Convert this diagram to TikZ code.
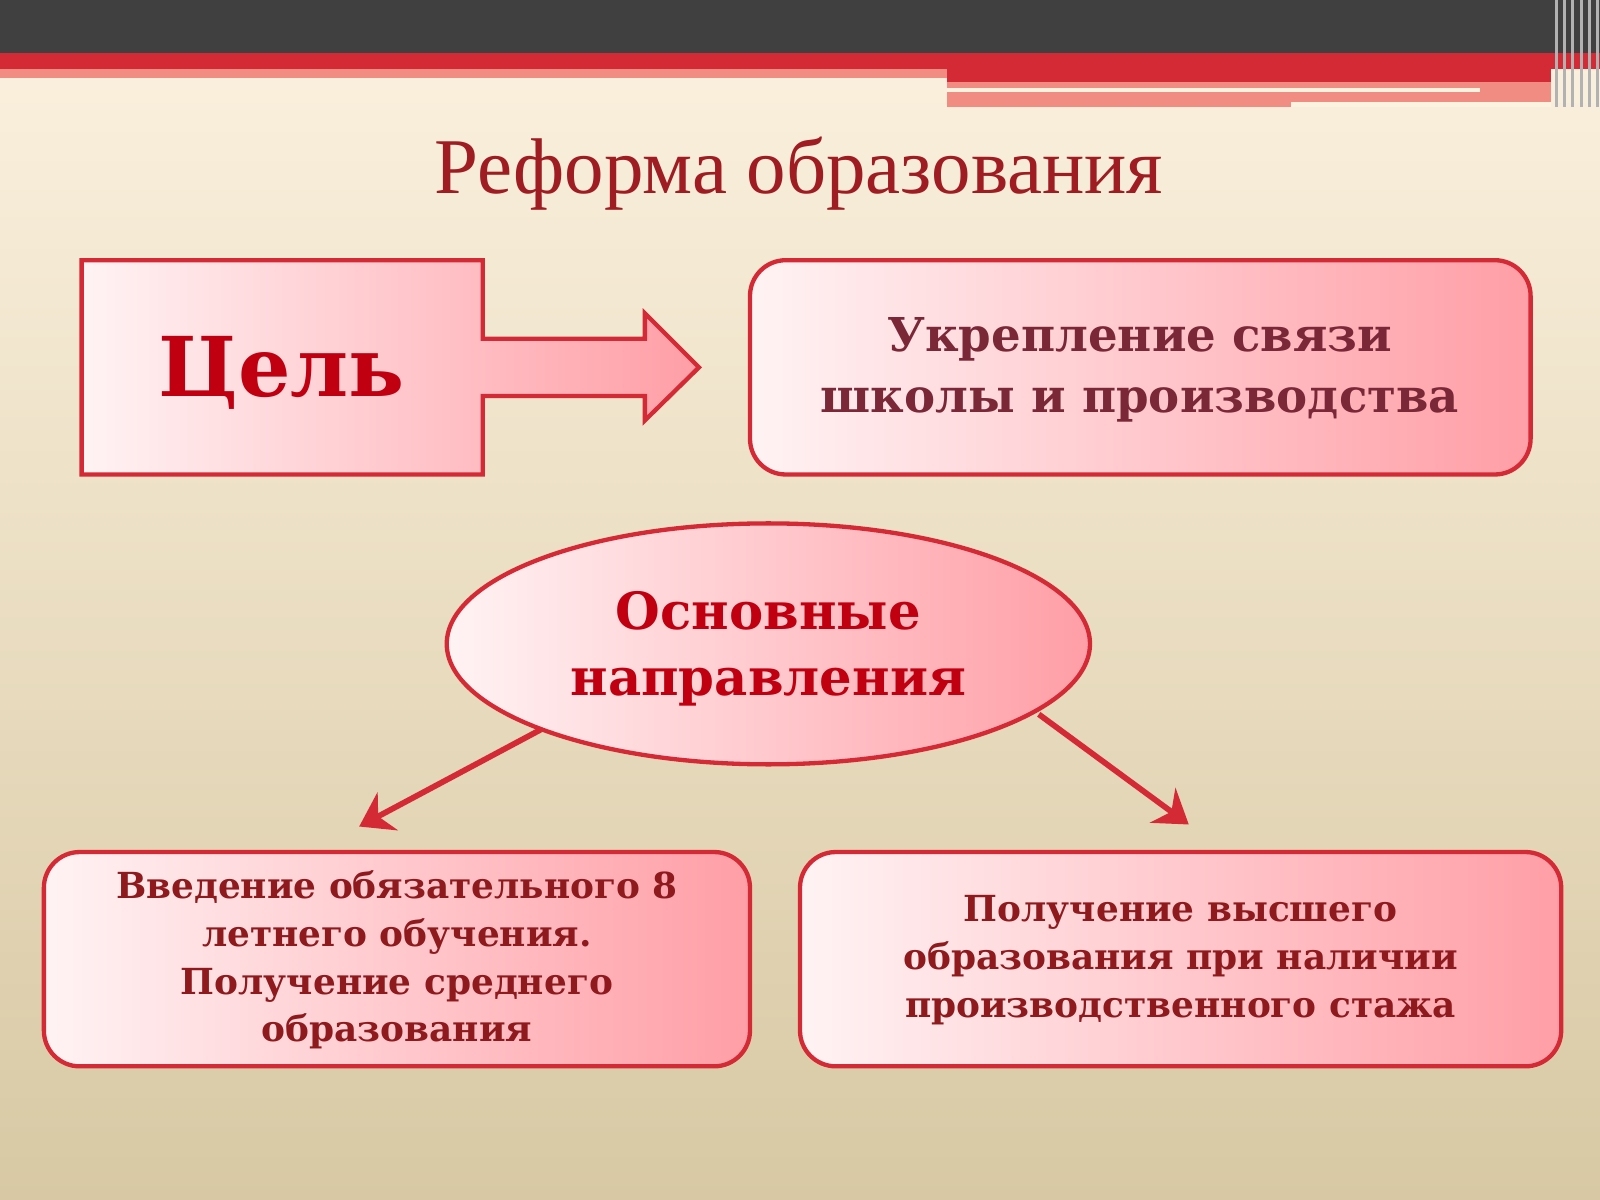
\documentclass[tikz,border=0pt]{standalone}
\usepackage{fontspec}
\setmainfont{DejaVu Serif}
\newfontfamily\titlefont{Liberation Serif}
\usetikzlibrary{shapes.geometric,arrows.meta}
\definecolor{bgtop}{HTML}{FCF2E0}
\definecolor{bgmid}{HTML}{F1E6CC}
\definecolor{bgbot}{HTML}{D8C9A4}
\definecolor{edge}{HTML}{D42A35}
\definecolor{pinkR}{HTML}{FF9EA6}
\definecolor{pinkL}{HTML}{FFF3F4}
\definecolor{titlec}{HTML}{9E1C22}
\definecolor{redtxt}{HTML}{C00010}
\definecolor{maroon}{HTML}{7A2838}
\definecolor{darkred}{HTML}{8E1A1E}
\definecolor{hdrgray}{HTML}{404040}
\definecolor{hdrpink}{HTML}{F08C82}
\tikzset{
 px/.style={x=0.01cm,y=-0.01cm},
 pbox/.style={draw=edge,line width=1.2pt,left color=pinkL,right color=pinkR},
 rbox/.style={pbox,rounded corners=0.35cm},
 bigtxt/.style={font=\bfseries\fontsize{13}{17}\selectfont,text=maroon,align=center},
 smtxt/.style={font=\bfseries\fontsize{10}{13.3}\selectfont,text=darkred,align=center},
 darr/.style={draw=edge,line width=1.6pt,-{Stealth[length=9pt,width=12pt,inset=3pt]}}
}
\begin{document}
\begin{tikzpicture}[px]
\useasboundingbox (0,0) rectangle (1568,1176);
\fill[top color=bgtop,middle color=bgmid,bottom color=bgbot] (0,0) rectangle (1568,1176);
% header
\fill[hdrgray] (0,0) rectangle (1568,52);
\fill[edge] (0,52) rectangle (1568,68);
\fill[hdrpink] (0,68) rectangle (928,76);
\fill[edge] (928,68) rectangle (1520,80);
\fill[hdrpink] (928,80) rectangle (1520,105);
\fill[bgtop] (928,86) rectangle (1450,90);
\fill[bgtop] (1265,100) rectangle (1520,105);
\foreach \x in {1524,1532,1540,1548,1556,1564}{\fill[gray!60] (\x,0) rectangle ++(3,105);}
% title
\node[font=\titlefont\fontsize{22}{25}\selectfont,text=titlec] (title) at (783,170) {Реформа образования};
% goal box with arrow
\draw[pbox] (80,255) -- (473,255) -- (473,332) -- (632,332) -- (632,307) -- (685,360) -- (632,412) -- (632,388) -- (473,388) -- (473,465) -- (80,465) -- cycle;
\node[font=\bfseries\fontsize{23}{26}\selectfont,text=redtxt] (goal) at (276,365) {Цель};
\draw[rbox] (735,255) rectangle (1500,465);
\node[bigtxt] (target) at (1117,362) {Укрепление связи\\школы и производства};
% ellipse
\node[ellipse,draw=edge,line width=1.2pt,left color=pinkL,right color=pinkR,minimum width=6.3cm,minimum height=2.36cm] (ell) at (753,631) {};
\node[font=\bfseries\fontsize{14.3}{18.5}\selectfont,text=redtxt,align=center] (elltxt) at (753,636) {Основные\\направления};
% bottom boxes
\draw[rbox] (43,835) rectangle (735,1045);
\node[smtxt] (b1) at (389,941) {Введение обязательного 8\\летнего обучения.\\Получение среднего\\образования};
\draw[rbox] (784,835) rectangle (1530,1045);
\node[smtxt] (b2) at (1157,941) {Получение высшего\\образования при наличии\\производственного стажа};
% arrows
\coordinate (s1) at (530,715);
\coordinate (e1) at (352,810);
\coordinate (s2) at (1018,700);
\coordinate (e2) at (1165,808);
\draw[darr] (s1) -- (e1);
\draw[darr] (s2) -- (e2);
\end{tikzpicture}
\end{document}
